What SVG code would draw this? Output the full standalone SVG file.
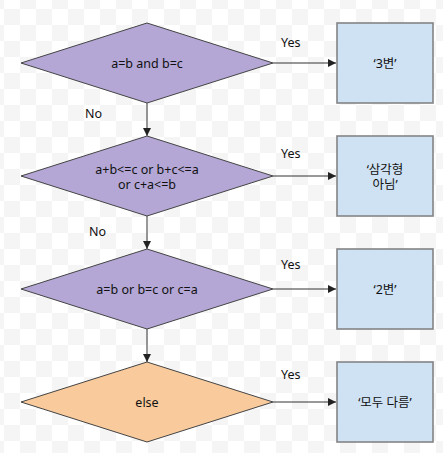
<svg xmlns="http://www.w3.org/2000/svg" width="443" height="453" viewBox="0 0 443 453">
<defs>
<pattern id="checker" x="4" y="9" width="32" height="32" patternUnits="userSpaceOnUse">
<rect width="32" height="32" fill="#ffffff"/>
<rect x="0" y="0" width="16" height="16" fill="#f5f5f5"/>
<rect x="16" y="16" width="16" height="16" fill="#f5f5f5"/>
</pattern>
<marker id="arrow" viewBox="0 0 10 10" refX="10" refY="5" markerWidth="8" markerHeight="8" markerUnits="userSpaceOnUse" orient="auto">
<path d="M0,0 L10,5 L0,10 Z" fill="#222222"/>
</marker>
</defs>
<style>
text { font-family: "Noto Sans", "Noto Sans CJK KR", sans-serif; font-size: 12.5px; fill: #111111; }
.c { text-anchor: middle; }
.dp { fill: #b4a7d6; stroke: #444444; stroke-width: 1; }
.do { fill: #f9cb9c; stroke: #444444; stroke-width: 1; }
.box { fill: #cfe2f3; stroke: #848484; stroke-width: 1.6; }
.edge { stroke: #333333; stroke-width: 1; fill: none; marker-end: url(#arrow); }
</style>
<rect width="443" height="453" fill="url(#checker)"/>
<g id="connectors">
<line class="edge" x1="273" y1="63" x2="336" y2="63"/>
<line class="edge" x1="273" y1="176" x2="336" y2="176"/>
<line class="edge" x1="273" y1="289" x2="336" y2="289"/>
<line class="edge" x1="273" y1="402" x2="336" y2="402"/>
<line class="edge" x1="147" y1="103" x2="147" y2="136"/>
<line class="edge" x1="147" y1="216" x2="147" y2="249"/>
<line class="edge" x1="147" y1="329" x2="147" y2="362"/>
<text x="281" y="47">Yes</text>
<text x="281" y="158">Yes</text>
<text x="281" y="269">Yes</text>
<text x="281" y="379">Yes</text>
<text x="85" y="118">No</text>
<text x="89" y="236">No</text>
</g>
<g id="d1">
<polygon class="dp" points="147,23 273,63 147,103 21,63"/>
<text class="c" x="147" y="67.5">a=b and b=c</text>
</g>
<g id="d2">
<polygon class="dp" points="147,136 273,176 147,216 21,176"/>
<text class="c" x="147" y="174">a+b&lt;=c or b+c&lt;=a</text>
<text class="c" x="147" y="189">or c+a&lt;=b</text>
</g>
<g id="d3">
<polygon class="dp" points="147,249 273,289 147,329 21,289"/>
<text class="c" x="147" y="293.5">a=b or b=c or c=a</text>
</g>
<g id="d4">
<polygon class="do" points="147,362 273,402 147,442 21,402"/>
<text class="c" x="147" y="406.5">else</text>
</g>
<g id="b1">
<rect class="box" x="337" y="23" width="96" height="80"/>
<text class="c" x="385" y="67.5">‘3변’</text>
</g>
<g id="b2">
<rect class="box" x="337" y="136" width="96" height="80"/>
<text class="c" x="385" y="174">‘삼각형</text>
<text class="c" x="385" y="189">아님’</text>
</g>
<g id="b3">
<rect class="box" x="337" y="249" width="96" height="80"/>
<text class="c" x="385" y="293.5">‘2변’</text>
</g>
<g id="b4">
<rect class="box" x="337" y="362" width="96" height="80"/>
<text class="c" x="385" y="406.5">‘모두 다름’</text>
</g>
</svg>
